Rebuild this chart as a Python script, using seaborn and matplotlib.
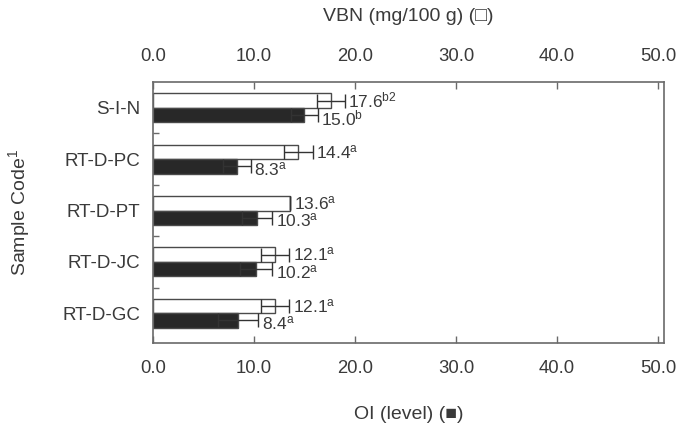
import matplotlib
matplotlib.use("Agg")
import matplotlib.pyplot as plt
import numpy as np
import pandas as pd
import seaborn as sns


samples = ["S-I-N", "RT-D-PC", "RT-D-PT", "RT-D-JC", "RT-D-GC"]
vbn = [17.6, 14.4, 13.6, 12.1, 12.1]
vbn_err = [1.4, 1.4, 0.0, 1.4, 1.4]
vbn_sup = ["b2", "a", "a", "a", "a"]
oi = [15.0, 8.3, 10.3, 10.2, 8.4]
oi_err = [1.3, 1.4, 1.5, 1.6, 2.0]
oi_sup = ["b", "a", "a", "a", "a"]
ticks = [0, 10, 20, 30, 40, 50]


def plot():
    sns.set_theme(style="ticks")
    plt.rcParams["font.family"] = ["Liberation Sans", "DejaVu Sans"]
    plt.rcParams["mathtext.default"] = "regular"
    text_color = "#3a3a3a"
    spine_color = "#6a6a6a"

    df = pd.DataFrame({
        "sample": samples * 2,
        "value": vbn + oi,
        "measure": ["VBN"] * len(samples) + ["OI"] * len(samples),
    })

    fig = plt.figure(figsize=(6.86, 4.23), dpi=100)
    ax = fig.add_axes([0.223, 0.189, 0.745, 0.617])

    sns.barplot(data=df, y="sample", x="value", hue="measure", orient="h",
                palette={"VBN": "white", "OI": "#282828"}, width=0.56,
                edgecolor="#4a4a4a", linewidth=1.0, errorbar=None,
                legend=False, ax=ax)

    series = [(vbn, vbn_err, vbn_sup, 0.0), (oi, oi_err, oi_sup, 0.06)]
    for cont, (vals, errs, sups, dy) in zip(ax.containers, series):
        ys = [b.get_y() + b.get_height() / 2 for b in cont]
        ax.errorbar(vals, ys, xerr=errs, fmt="none", ecolor="#333333",
                    elinewidth=1.0, capsize=5, capthick=1.0, zorder=5)
        for v, e, s, y in zip(vals, errs, sups, ys):
            ax.text(v + e + 0.35, y + dy, f"{v:.1f}$^{{{s}}}$", ha="left",
                    va="center", fontsize=12.5, color=text_color)

    ax.set_xlim(0, 50.6)
    ax.set_ylim(4.58, -0.5)
    ax.set_xticks(ticks)
    ax.set_xticklabels([f"{t:.1f}" for t in ticks])
    ax.set_yticks(np.arange(len(samples) - 1) + 0.5, minor=True)

    for sp in ax.spines.values():
        sp.set_visible(True)
        sp.set_color(spine_color)
        sp.set_linewidth(1.2)

    ax.tick_params(axis="x", direction="in", length=5, width=1.0,
                   color=spine_color, pad=12, labelsize=13.3,
                   labelcolor=text_color, top=True)
    ax.tick_params(axis="y", which="major", length=0, pad=9,
                   labelsize=13.5, labelcolor=text_color)
    ax.tick_params(axis="y", which="minor", direction="in", length=4,
                   width=1.0, color=spine_color, left=True)

    top = ax.secondary_xaxis("top")
    top.set_xticks(ticks)
    top.set_xticklabels([f"{t:.1f}" for t in ticks])
    top.tick_params(direction="in", length=0, pad=12, labelsize=13.3,
                    labelcolor=text_color)
    top.spines["top"].set_visible(False)
    top.set_xlabel("VBN (mg/100 g) (\u25a1)", fontsize=14,
                   color=text_color, labelpad=20)

    ax.set_xlabel("OI (level) (\u25a0)", fontsize=14, color=text_color,
                  labelpad=21)
    ax.set_ylabel("Sample Code$^{1}$", fontsize=14, color=text_color,
                  labelpad=22)

    fig.savefig("out.png", dpi=100)


if __name__ == "__main__":
    plot()
